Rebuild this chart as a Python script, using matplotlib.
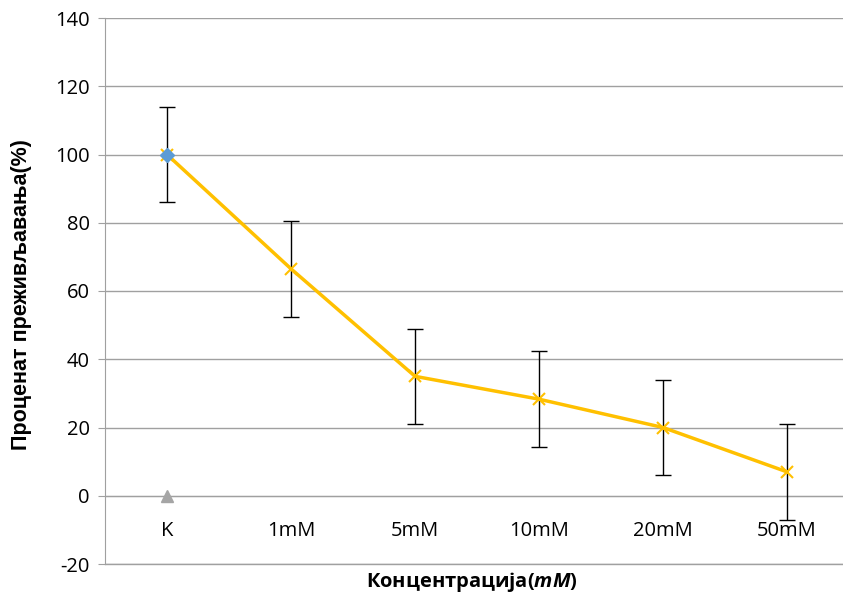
import matplotlib
matplotlib.use("Agg")
import matplotlib.pyplot as plt
import numpy as np

categories = ["K", "1mM", "5mM", "10mM", "20mM", "50mM"]
survival = [100, 66.5, 35, 28.3, 20, 7]
errors = [14, 14, 14, 14, 14, 14]
control_point = [100]
zero_point = [0]

plt.rcParams['font.family'] = ['Open Sans', 'DejaVu Sans']
plt.rcParams['axes.unicode_minus'] = False
plt.rcParams['mathtext.fontset'] = 'custom'
plt.rcParams['mathtext.bfit'] = 'Open Sans:italic:bold'
plt.rcParams['mathtext.it'] = 'Open Sans:italic'
plt.rcParams['mathtext.rm'] = 'Open Sans'

fig = plt.figure(figsize=(8.43, 6), dpi=100)
ax = fig.add_axes([105/843, 36/600, (849-105)/843, (564-18)/600])

for s in ['top', 'right']:
    ax.spines[s].set_visible(False)
ax.spines['bottom'].set_position(('data', 0))
ax.spines['bottom'].set_color('#A0A0A0')
ax.spines['left'].set_color('#A0A0A0')

x = np.arange(len(categories))
ax.errorbar(x, survival, yerr=errors, fmt='none', ecolor='black', elinewidth=1, capsize=6, capthick=1, zorder=3)
ax.plot(x, survival, color='#FFC000', lw=2.5, marker='x', ms=9, mew=1.5, zorder=4)
ax.plot([0], control_point, marker='D', color='#5B9BD5', ms=7, ls='none', zorder=5)
ax.plot([0], zero_point, marker='^', color='#A5A5A5', ms=8, ls='none', zorder=5)

ax.set_xlim(-0.5, 5.5)
ax.set_ylim(-20, 140)
ax.set_yticks(np.arange(-20, 141, 20))
ax.yaxis.grid(True, color='#A0A0A0', lw=1)
ax.axhline(-20, color='#A0A0A0', lw=1, clip_on=False, zorder=0)
ax.set_axisbelow(True)
ax.set_xticks(x)
ax.set_xticklabels(categories, fontsize=14.5)
ax.tick_params(axis='x', length=0, pad=18, labelsize=14.5)
ax.tick_params(axis='y', labelsize=14.5, length=5, color='#A0A0A0', pad=6)

fig.text(22/843, 1 - 295/600, 'Проценат преживљавања(%)', fontsize=15.5, fontweight='bold',
         family=['Liberation Sans', 'DejaVu Sans'], rotation=90, ha='center', va='center')
fig.text(472/843, 1 - 582/600, r'Концентрација($\mathbfit{mM}$)', fontsize=14.5,
         fontweight='bold', ha='center', va='center')

fig.savefig('out.png', dpi=100)
